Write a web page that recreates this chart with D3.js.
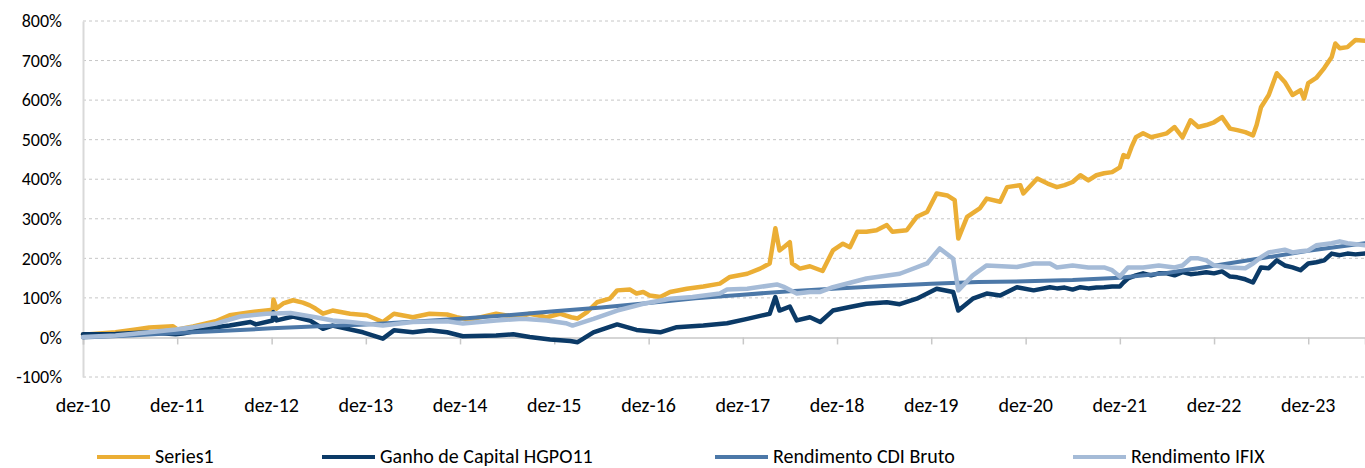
<!DOCTYPE html>
<html>
<head>
<meta charset="utf-8">
<script src="https://cdn.jsdelivr.net/npm/d3@7"></script>
<style>
  body { margin: 0; background: #fff; }
  svg text { font-family: Calibri, Carlito, Lato, sans-serif; fill: #000; }
</style>
</head>
<body>
<svg id="chart"></svg>
<script>
// tick labels
const yTicks = [-100, 0, 100, 200, 300, 400, 500, 600, 700, 800];
const xTickYears = [2010, 2011, 2012, 2013, 2014, 2015, 2016, 2017, 2018, 2019, 2020, 2021, 2022, 2023];

const seriesNames = ["Series1", "Ganho de Capital HGPO11", "Rendimento CDI Bruto", "Rendimento IFIX"];

// values in %
const series1 = [
  ["2010-12", 7], ["2011-04-06", 13], ["2011-06-23", 20], ["2011-08-15", 25], ["2011-11-15", 28], ["2011-12-03", 20],
  ["2012-02", 28], ["2012-04-28", 41], ["2012-06-21", 56], ["2012-09-10", 64], ["2012-11-10", 68], ["2012-12-05", 70],
  ["2012-12-08", 96], ["2012-12-20", 73], ["2013-01-15", 86], ["2013-02-22", 94], ["2013-04-01", 88], ["2013-04-28", 81],
  ["2013-05-20", 73], ["2013-06-18", 60], ["2013-07-25", 68], ["2013-10", 60], ["2013-12-05", 56], ["2014-02-05", 39],
  ["2014-03-20", 60], ["2014-06", 51], ["2014-08-05", 60], ["2014-10-12", 58], ["2014-11-18", 51], ["2015-01-08", 45],
  ["2015-04-20", 60], ["2015-07-08", 51], ["2015-08-28", 60], ["2015-11-02", 51], ["2015-12-22", 60], ["2016-02-05", 51],
  ["2016-03", 48], ["2016-04-06", 64], ["2016-05-15", 89], ["2016-07-03", 98], ["2016-08", 119], ["2016-09-20", 121],
  ["2016-10-15", 111], ["2016-11-10", 115], ["2016-12-05", 106], ["2017-01-15", 102], ["2017-02-22", 115], ["2017-04-28", 123],
  ["2017-07", 129], ["2017-09-03", 136], ["2017-10-12", 153], ["2017-12-18", 161], ["2018-02-06", 174], ["2018-03-15", 187],
  ["2018-04-06", 276], ["2018-04-22", 220], ["2018-05-12", 230], ["2018-06", 241], ["2018-06-10", 187], ["2018-07-10", 174],
  ["2018-08-18", 180], ["2018-10-06", 168], ["2018-11-15", 220], ["2018-12-24", 237], ["2019-01-20", 228], ["2019-02-18", 267],
  ["2019-03-25", 267], ["2019-05-03", 271], ["2019-06-12", 284], ["2019-07-04", 267], ["2019-08-28", 271], ["2019-10-06", 305],
  ["2019-11-15", 317], ["2019-12-22", 364], ["2020-02-01", 359], ["2020-03-01", 347], ["2020-03-15", 250], ["2020-04-18", 305],
  ["2020-06-06", 326], ["2020-07-03", 351], ["2020-08-24", 343], ["2020-09-20", 380], ["2020-11-10", 385], ["2020-11-22", 364],
  ["2021-01-15", 402], ["2021-02-24", 389], ["2021-04", 380], ["2021-05", 385], ["2021-06", 393], ["2021-07", 410],
  ["2021-08", 397], ["2021-09", 410], ["2021-10", 415], ["2021-11", 418], ["2021-12", 430], ["2021-12-15", 461],
  ["2022-01", 456], ["2022-01-15", 481], ["2022-02", 506], ["2022-03", 516], ["2022-04", 506], ["2022-05", 511],
  ["2022-06", 516], ["2022-07", 532], ["2022-08", 506], ["2022-09", 549], ["2022-10", 532], ["2022-11", 537],
  ["2022-12", 544], ["2023-01", 557], ["2023-02", 528], ["2023-03", 524], ["2023-04", 519], ["2023-05", 511],
  ["2023-05-15", 537], ["2023-06", 582], ["2023-07", 613], ["2023-08", 668], ["2023-09", 646], ["2023-10", 613],
  ["2023-11", 625], ["2023-11-15", 604], ["2023-12", 643], ["2024-01", 656], ["2024-02", 681], ["2024-03", 709],
  ["2024-03-15", 743], ["2024-04", 731], ["2024-05", 734], ["2024-06", 752], ["2024-07-08", 750]
];

const ganhoCapital = [
  ["2010-12", 8], ["2011-04-06", 9], ["2011-08-15", 13], ["2011-11-25", 8], ["2011-12-22", 10], ["2012-04-28", 26],
  ["2012-06-21", 30], ["2012-09-10", 39], ["2012-10", 33], ["2012-12-05", 43], ["2012-12-08", 64], ["2012-12-20", 43],
  ["2013-02-22", 53], ["2013-04-28", 43], ["2013-06-18", 22], ["2013-07-25", 30], ["2013-11-20", 13], ["2014-02-05", -3],
  ["2014-03-20", 18], ["2014-06", 13], ["2014-08-05", 18], ["2014-10-12", 13], ["2014-12-12", 3], ["2015-04-20", 5],
  ["2015-06-25", 8], ["2015-08-28", 1], ["2015-11-15", -5], ["2016-02", -9], ["2016-03", -12], ["2016-05", 13],
  ["2016-08", 33], ["2016-10-15", 19], ["2017-01-15", 13], ["2017-03-20", 26], ["2017-07", 30], ["2017-10", 36],
  ["2017-12-18", 47], ["2018-03-15", 60], ["2018-04-06", 102], ["2018-04-22", 68], ["2018-06", 78], ["2018-06-28", 43],
  ["2018-08-18", 51], ["2018-09-27", 39], ["2018-11-15", 68], ["2019-01-20", 77], ["2019-03-25", 85], ["2019-06-12", 89],
  ["2019-08", 84], ["2019-10-06", 98], ["2019-12-22", 123], ["2020-02-24", 115], ["2020-03-15", 68], ["2020-05-10", 98],
  ["2020-07-03", 111], ["2020-08-24", 106], ["2020-10-28", 127], ["2021-01", 119], ["2021-03-05", 127], ["2021-04", 124],
  ["2021-05", 126], ["2021-06", 121], ["2021-07", 127], ["2021-08", 124], ["2021-09", 126], ["2021-10", 127],
  ["2021-11", 129], ["2021-12", 129], ["2021-12-15", 139], ["2022-01", 149], ["2022-02", 157], ["2022-03", 162],
  ["2022-04", 157], ["2022-05", 162], ["2022-06", 162], ["2022-07", 157], ["2022-08", 165], ["2022-09", 160],
  ["2022-10", 162], ["2022-11", 165], ["2022-12", 162], ["2023-01", 167], ["2023-02", 154], ["2023-03", 152],
  ["2023-04", 147], ["2023-05", 139], ["2023-06", 177], ["2023-07", 175], ["2023-08", 195], ["2023-09", 182],
  ["2023-10", 177], ["2023-11", 170], ["2023-12", 187], ["2024-01", 190], ["2024-02", 195], ["2024-03", 212],
  ["2024-04", 208], ["2024-05", 212], ["2024-06", 210], ["2024-07-08", 212]
];

const cdiBruto = [
  ["2010-12", 0], ["2011-06", 5], ["2011-12", 11], ["2012-06", 17], ["2012-12", 23], ["2013-06", 28],
  ["2013-12", 33], ["2014-06", 40], ["2014-12", 47], ["2015-06", 56], ["2015-12", 66], ["2016-06", 76],
  ["2016-12", 87], ["2017-06", 99], ["2017-12", 108], ["2018-06", 117], ["2018-12", 124], ["2019-06", 130],
  ["2019-12", 136], ["2020-06", 140], ["2020-12", 142], ["2021-06", 145], ["2021-12", 151], ["2022-06", 163],
  ["2022-12", 181], ["2023-06", 200], ["2023-12", 219], ["2024-07-08", 238]
];

const rendimentoIfix = [
  ["2010-12", 1], ["2011-04-06", 5], ["2011-08-15", 13], ["2011-11-25", 20], ["2012-02", 26], ["2012-04-28", 35],
  ["2012-08", 53], ["2012-11-10", 60], ["2013-02-12", 62], ["2013-05-20", 51], ["2013-07-25", 43], ["2013-10", 39],
  ["2014-02-05", 30], ["2014-06", 39], ["2014-10-12", 41], ["2014-12-12", 35], ["2015-04-20", 43], ["2015-08", 47],
  ["2015-11-02", 43], ["2016-01-15", 36], ["2016-02-10", 30], ["2016-05", 47], ["2016-08", 68], ["2016-11-10", 85],
  ["2017-02-22", 98], ["2017-05-20", 102], ["2017-09-03", 111], ["2017-10", 121], ["2017-12-18", 123], ["2018-04-12", 134],
  ["2018-05-12", 127], ["2018-06-28", 111], ["2018-08-18", 115], ["2018-09-27", 115], ["2018-11-15", 127], ["2019-03-25", 149],
  ["2019-08", 161], ["2019-11-15", 187], ["2020-01-03", 225], ["2020-02-24", 199], ["2020-03-15", 119], ["2020-05-10", 157],
  ["2020-07-03", 182], ["2020-10-28", 178], ["2021-01", 187], ["2021-03-05", 187], ["2021-04", 177], ["2021-06", 182],
  ["2021-08", 177], ["2021-10", 177], ["2021-11", 170], ["2021-12", 154], ["2022-01", 177], ["2022-03", 177],
  ["2022-05", 182], ["2022-07", 177], ["2022-08", 182], ["2022-09", 200], ["2022-10", 200], ["2022-11", 195],
  ["2022-12", 182], ["2023-02", 177], ["2023-04", 175], ["2023-05", 187], ["2023-06", 203], ["2023-07", 215],
  ["2023-09", 222], ["2023-10", 215], ["2023-11", 218], ["2023-12", 220], ["2024-01", 233], ["2024-03", 238],
  ["2024-04", 243], ["2024-05", 238], ["2024-07-08", 233]
];

const seriesData = [series1, ganhoCapital, cdiBruto, rendimentoIfix];
const seriesColors = ["#EBAE35", "#0B3A67", "#4C78A8", "#A5BBD7"];
const seriesWidths = [4.5, 4.5, 4, 4.5];

const width = 1365, height = 468;
const margin = { left: 83, right: 0, top: 21, bottom: 91 };

const parseDate = s => d3.timeParse("%Y-%m-%d")(s.length === 7 ? s + "-01" : s);

const svg = d3.select("#chart").attr("width", width).attr("height", height);

const x = d3.scaleTime()
  .domain([parseDate("2010-12"), parseDate("2024-07-08")])
  .range([margin.left, width - margin.right]);

const y = d3.scaleLinear()
  .domain([-100, 800])
  .range([height - margin.bottom, margin.top]);

// dashed gridlines
svg.append("g")
  .selectAll("line")
  .data(yTicks.filter(d => d !== 0))
  .join("line")
  .attr("x1", margin.left)
  .attr("x2", width)
  .attr("y1", d => y(d))
  .attr("y2", d => y(d))
  .attr("stroke", "#C6C6C6")
  .attr("stroke-width", 1)
  .attr("stroke-dasharray", "3,3");

// y axis
const yAxis = svg.append("g")
  .attr("transform", `translate(${margin.left},0)`)
  .call(d3.axisLeft(y).tickValues(yTicks).tickSize(0).tickPadding(21).tickFormat(d => d + "%"));
yAxis.select(".domain").attr("stroke", "#D9D9D9").attr("stroke-width", 2);
yAxis.selectAll("text").attr("font-size", 18).style("font-family", "Calibri, Carlito, Lato, sans-serif");

// x axis on the 0% line, labels at the bottom
const xTickDates = xTickYears.map(yr => parseDate(yr + "-12"));
const xAxis = svg.append("g")
  .attr("transform", `translate(0,${y(0)})`)
  .call(d3.axisBottom(x).tickValues(xTickDates).tickSize(7).tickFormat(""));
xAxis.select(".domain").attr("stroke", "#C8C8C8").attr("stroke-width", 1.5);
xAxis.selectAll(".tick line").attr("stroke", "#C8C8C8").attr("stroke-width", 1.5);

svg.append("g")
  .selectAll("text")
  .data(xTickDates)
  .join("text")
  .attr("x", d => x(d))
  .attr("y", 412)
  .attr("text-anchor", "middle")
  .attr("font-size", 20)
  .text(d => "dez-" + d3.timeFormat("%y")(d));

// lines
const line = d3.line()
  .x(d => x(parseDate(d[0])))
  .y(d => y(d[1]));

svg.append("g")
  .selectAll("path")
  .data(seriesData)
  .join("path")
  .attr("d", line)
  .attr("fill", "none")
  .attr("stroke", (d, i) => seriesColors[i])
  .attr("stroke-width", (d, i) => seriesWidths[i])
  .attr("stroke-linejoin", "round")
  .attr("stroke-linecap", "round");

// legend
const legendX = [97, 322, 715, 1073];
const legend = svg.append("g")
  .selectAll("g")
  .data(seriesNames)
  .join("g")
  .attr("transform", (d, i) => `translate(${legendX[i]},457)`);

legend.append("line")
  .attr("x1", 0).attr("x2", 53)
  .attr("stroke", (d, i) => seriesColors[i])
  .attr("stroke-width", 4);

legend.append("text")
  .attr("x", 58)
  .attr("y", 6)
  .attr("font-size", 20)
  .text(d => d);
</script>
</body>
</html>
